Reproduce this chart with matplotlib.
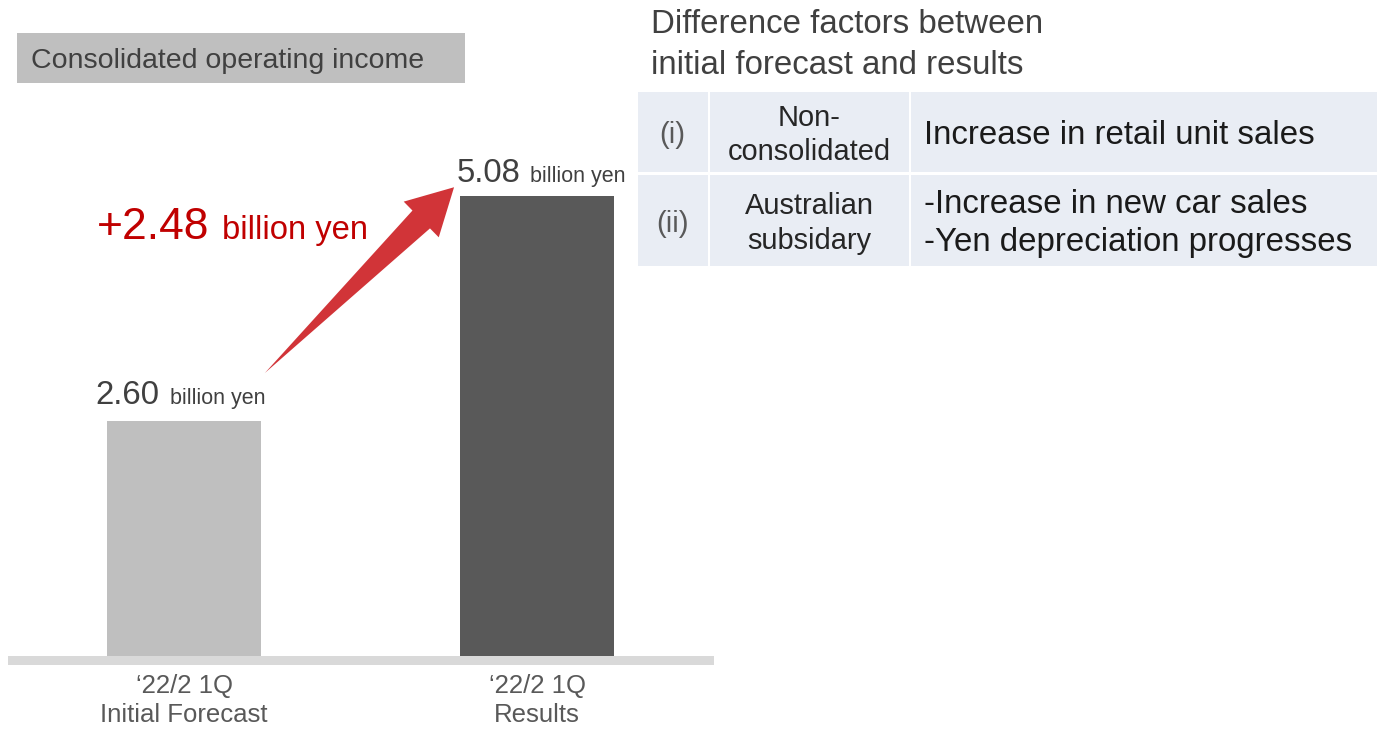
import matplotlib
matplotlib.use("Agg")
import matplotlib.pyplot as plt
import matplotlib.transforms as mtransforms
from matplotlib.patches import Rectangle, Polygon
import numpy as np

plt.rcParams['font.family'] = ['Liberation Sans', 'DejaVu Sans']

# ---- data ----
categories = ["\u201822/2 1Q\nInitial Forecast", "\u201822/2 1Q\nResults"]
values = [2.60, 5.08]            # billion yen
bar_colors = ["#bfbfbf", "#595959"]
unit = "billion yen"
difference = values[1] - values[0]

chart_title = "Consolidated operating income"
table_title = "Difference factors between\ninitial forecast and results"
factor_ids = ["(i)", "(ii)"]
factor_units = ["Non-\nconsolidated", "Australian\nsubsidary"]
factor_text = ["Increase in retail unit sales",
               "-Increase in new car sales\n-Yen depreciation progresses"]

W, H = 1379, 730
fig = plt.figure(figsize=(W / 100, H / 100), dpi=100)
fig.patch.set_facecolor("white")


def fx(px):
    return px / W


def fy(py):
    return 1 - py / H


# ---- bar chart ----
ax = fig.add_axes([fx(8), fy(656), fx(714) - fx(8), fy(100) - fy(656)])
ax.set_xlim(-0.4986, 1.5014)
ax.set_ylim(0, 6.144)
x = np.arange(len(values))
ax.bar(x, values, width=0.436, color=bar_colors, zorder=2)
for s in ax.spines.values():
    s.set_visible(False)
ax.set_yticks([])
ax.set_xticks(x)
ax.set_xticklabels(categories, fontsize=18.5, color="#595959", linespacing=1.25)
ax.tick_params(axis="x", length=0, pad=13)
ax.patch.set_alpha(0)

# baseline band
fig.add_artist(Rectangle((fx(8), fy(665)), fx(714) - fx(8), fy(656) - fy(665),
                         transform=fig.transFigure, color="#d9d9d9", lw=0))

# value labels above the bars
label_offsets = [(-25, -14, 17), (-16, -7, 14)]
for xi, v, (dn, du, dy) in zip(x, values, label_offsets):
    tn = mtransforms.offset_copy(ax.transData, fig=fig, x=dn, y=dy, units="dots")
    tu = mtransforms.offset_copy(ax.transData, fig=fig, x=du, y=dy, units="dots")
    ax.text(xi, v, f"{v:.2f}", transform=tn, ha="right", va="baseline",
            fontsize=23.7, color="#404040", clip_on=False)
    ax.text(xi, v, unit, transform=tu, ha="left", va="baseline",
            fontsize=15.5, color="#404040", clip_on=False)

# red arrow from the forecast label towards the results label
tail = ax.transData.transform((0.229, 3.127))
tip = ax.transData.transform((0.765, 5.18))
u = (tip - tail) / np.linalg.norm(tip - tail)
n = np.array([-u[1], u[0]])
L = np.linalg.norm(tip - tail)
head_len, head_half, shaft_half = 46, 25, 12.5
base = tail + u * (L - head_len)
pts = [tail,
       base + n * shaft_half,
       base + n * head_half,
       tip,
       base - n * head_half,
       base - n * shaft_half]
fig.add_artist(Polygon(pts, closed=True, transform=None,
                       facecolor="#d13438", edgecolor="none", zorder=5))

# difference annotation
fig.text(fx(97), fy(239), f"+{difference:.2f}", ha="left", va="baseline",
         fontsize=32, color="#c00000")
fig.text(fx(222), fy(239), unit, ha="left", va="baseline",
         fontsize=23.6, color="#c00000")

# chart title box
fig.add_artist(Rectangle((fx(17), fy(83)), fx(465) - fx(17), fy(33) - fy(83),
                         transform=fig.transFigure, color="#bfbfbf", lw=0))
fig.text(fx(31), fy(61), chart_title, ha="left", va="center",
         fontsize=20.5, color="#404040")

# ---- factor table ----
fig.text(fx(651), fy(45), table_title, ha="left", va="center",
         fontsize=23.8, color="#404040", linespacing=1.41)

table_bg = "#e9edf4"
col_edges = [(638, 708), (710, 909), (911, 1377)]
row_edges = [(92, 172), (175, 266)]
for (r0, r1) in row_edges:
    for (c0, c1) in col_edges:
        fig.add_artist(Rectangle((fx(c0), fy(r1)), fx(c1) - fx(c0), fy(r0) - fy(r1),
                                 transform=fig.transFigure, color=table_bg, lw=0))

for (r0, r1), fid, fu, ft in zip(row_edges, factor_ids, factor_units, factor_text):
    yc = (r0 + r1) / 2
    fig.text(fx(672), fy(yc + 3), fid, ha="center", va="center", fontsize=21,
             color="#595959")
    fig.text(fx(809), fy(yc + 3), fu, ha="center", va="center", fontsize=20.9,
             color="#262626", linespacing=1.31)
    fig.text(fx(924), fy(yc + 3), ft, ha="left", va="center", fontsize=23.8,
             color="#1a1a1a", linespacing=1.32)

fig.savefig("out.png", dpi=100)
